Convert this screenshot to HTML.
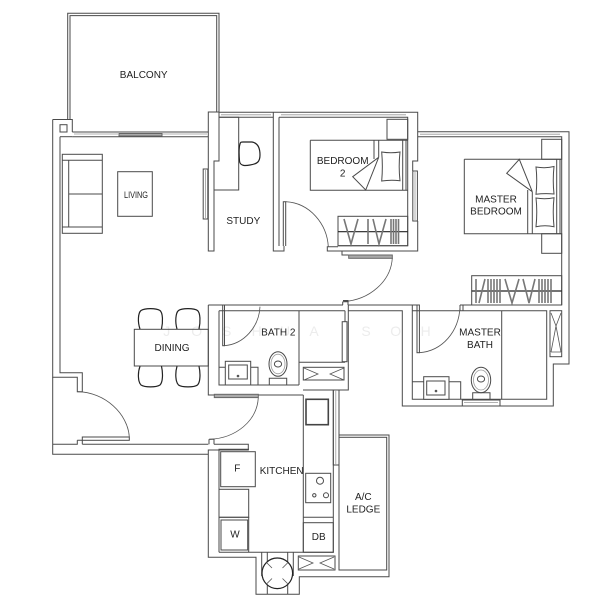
<!DOCTYPE html>
<html><head><meta charset="utf-8"><style>
html,body{margin:0;padding:0;background:#fff;width:616px;height:600px;overflow:hidden}
svg{display:block}
text{font-family:"Liberation Sans",sans-serif;font-size:10px;fill:#222;text-anchor:middle}
.w{font-size:14px;fill:#ececec}
path,rect,circle,ellipse,line{fill:none;stroke:#4a4a4a;stroke-width:1}
.d{stroke:#222;stroke-width:1.2}
.t{stroke:#777;stroke-width:1.6}
.a{stroke:#555;stroke-width:.8}
.f{fill:#aaa;stroke:#666}
.l{stroke:#999;stroke-width:.8}
</style></head><body>
<svg width="616" height="600" viewBox="0 0 616 600" xmlns="http://www.w3.org/2000/svg">
<!-- watermark -->
<text class="w" x="166.7" y="336">J</text><text class="w" x="196.7" y="336">O</text><text class="w" x="226.7" y="336">S</text><text class="w" x="256.7" y="336">H</text><text class="w" x="285" y="336">U</text><text class="w" x="314" y="336">A</text><text class="w" x="366" y="336">S</text><text class="w" x="395.7" y="336">O</text><text class="w" x="425.7" y="336">H</text>

<!-- balcony -->
<path d="M67.7 119V13.3H219V112M70 119V15.6H216.7V112"/>
<!-- living outer -->
<path d="M52.7 119.5H72.3V132M60 136.7V372.7H82.3V391.7H77.3V377.3H52.7V119.5"/>
<path d="M60 136.7H72.3"/>
<rect x="60" y="124.7" width="7" height="7.3"/>
<!-- living window -->
<path d="M72.3 132H208M72.3 136.7H208"/>
<path class="l" d="M74 134H118M162 134H207"/>
<rect class="f" x="119" y="133.5" width="43" height="2.5" />
<path d="M52.7 377.3V454.3H208.3M52.7 444.3H77.3V440.3M82.3 444.3V440.3M82.3 444.3H208.3M77.3 440.3H82.3"/>
<!-- main door -->
<rect x="82.3" y="437" width="47" height="3.3"/>
<path class="a" d="M77.3 391.7C105 392 128 414 129.3 437"/>
<!-- study walls -->
<path d="M219 112H208.3V251H214V161H219V112"/>
<rect x="203.2" y="169" width="4.6" height="50"/><path class="l" d="M205.5 170V218"/>
<path d="M219 112.3H279M219 117.3H273"/>
<path class="l" d="M221 114.8H271"/>
<path d="M219 117.3H238.7V190H214"/>
<path class="d" d="M243 142H252C258 143 260 148 260 155C260 162 257 164 250 165C245 166 240 166 239.5 161C239 155 239 147 240 144C240.5 142 241 142 243 142Z"/>
<!-- sofa -->
<rect x="62.3" y="154.3" width="40" height="79"/>
<path d="M62.3 160.3H102.3M62.3 227H102.3M68.7 160.3V227M68.7 194H102.3"/>
<rect x="117.7" y="171.7" width="34.6" height="44.6"/>
<!-- wall study/bedroom -->
<path d="M273.3 112.3V251H284V246M279 117.3V246"/>
<!-- bedroom 2 top -->
<path d="M279 112.3H417.7V161H412.7V171M279 117.3H407.7V245.7H338"/>
<path class="l" d="M281 114.8H406"/>
<rect x="412.8" y="171" width="4.6" height="50"/><path class="l" d="M415 172V220"/>
<path d="M417.7 221V251H327.3V246.7H338"/>
<!-- bedroom door -->
<path d="M283.3 246V201.7H285.7V246"/>
<path class="a" d="M285.7 201.7C310 203 327 224 328.3 246.7"/>
<!-- furniture bed 2 -->
<rect x="387" y="119.3" width="20.7" height="20"/>
<path d="M310.3 140.3H407.7M310.3 140.3V190.3H407.7M374 140.3V159M378.7 140.3V157.3M402.7 140.3V190.3M406 140.3V190.3"/>
<path d="M378.7 157.3L352.7 176.7L365.7 190L378.7 157.3"/>
<path d="M381.7 152C388 153 394 153 400 152C399 161 399 172 400 180.7C394 180 388 180 381.7 181C382.5 172 382.5 161 381.7 152Z"/>
<!-- wardrobe bed 2 -->
<rect x="338" y="216.3" width="69.7" height="29.4"/>
<path class="d" d="M338 231.7H407.7"/>
<path class="t" d="M344 219L351 244L358 219M368 219V244M373 219L379 244L386 219M391 219V244M393.5 219V244M396 219V244M398.5 219V244"/>
<!-- corridor door -->
<path d="M327.3 251H342V255H348.7"/>
<rect class="f" x="348.7" y="255" width="43.6" height="3.3"/>
<path class="a" d="M392.3 258C391 281 370 300 343 301.7"/>
<path d="M342.7 301.7H348V305M342.7 301.7V305"/>
<!-- master top -->
<path d="M417.7 131.7H569V364H553.3V406H402.3V310.7H348M417.7 136.7H561.7V305"/>
<path class="l" d="M420 134.2H560"/>
<rect x="541.7" y="139.3" width="20" height="20"/>
<rect x="541.7" y="233.7" width="20" height="19.6"/>
<path d="M464.3 159.3H561.7M464.3 159.3V233.7H561.7M527.7 190V233.7M532.3 191.7V233.7M556.7 159.3V233.7M560 159.3V233.7"/>
<path d="M532.3 191.7L519.3 159.3L506.7 173.3L532.3 191.7"/>
<path d="M536 167C542 168 548 168 554 166.5C553 176 553 185 554 194C548 193.5 542 193.5 536 194.3C537 185 537 176 536 167Z"/>
<path d="M536 198C542 199 548 199 554 197.7C553 207 553 217 554 226.7C548 225.5 542 225.5 536 226.7C537 217 537 207 536 198Z"/>
<rect x="471.7" y="275.7" width="90" height="29.3"/>
<path class="d" d="M471.7 291H561.7"/>
<path class="t" d="M476 279V303M479 303L485 279M488 279V303M491 279V303M494 279V303M497 279V303M500 279V303M505 279L512 303L519 279M523 279L529 303L535 279M539 279V303M542 279V303M545 279V303M548 279V303M551 279V303"/>
<!-- master bath -->
<path d="M348 305H417M460 305H561.7M412.3 305V399.3H546.7V310.7H460M412.3 310.7H460M501.7 310.7V399.3"/>
<path d="M460 305V310.7M463 305V310.7"/>
<rect x="550" y="310.7" width="11.7" height="46"/>
<path class="a" d="M551 313L556 326L551 352M561 313L556 326L561 352M551 352H561"/>
<rect x="417" y="305" width="2.4" height="47.7"/>
<path class="a" d="M419.4 352.7C442 351 459 332 460 306.7"/>
<path d="M412.3 381.7H460.7V399.3"/>
<rect x="423.7" y="376.7" width="25.3" height="22.6" style="fill:#fff"/>
<rect x="426.7" y="381" width="18.3" height="14"/>
<circle cx="436" cy="391" r=".8"/>
<ellipse cx="481" cy="380" rx="9.7" ry="12.7"/>
<ellipse cx="481" cy="380" rx="7.5" ry="10" class="l"/>
<ellipse cx="481" cy="379" rx="3.6" ry="3"/>
<path d="M472.7 399.3V392.7H490V399.3"/>
<rect x="462.3" y="400" width="37.7" height="6"/><path class="l" d="M464 402.5H498"/>
<!-- bath 2 -->
<path d="M208.3 305V395H214.3M208.3 305H343M219 310.7H345M219 310.7V385H299M299 310.7V385M299 362.3H345M303 390H348.3V305M345 310.7V362.3"/>
<path d="M214.3 395H303.3"/>
<rect x="342.2" y="321.7" width="4.8" height="40" style="fill:#fff"/>
<path d="M343 300.5H348V305"/>
<rect x="303.3" y="367.3" width="40.7" height="12.7"/>
<path class="a" d="M304 368L318 374L304 380M344 368L330 374L344 380"/>
<rect x="222.7" y="305" width="1.8" height="40.7"/>
<path class="a" d="M224.5 345.7C244 344 259 327 260 306.7"/>
<path d="M219 367.3H258V385"/>
<rect x="225.3" y="361.3" width="25.4" height="23.7" style="fill:#fff"/>
<rect x="228.7" y="365" width="18.6" height="14"/>
<circle cx="238" cy="376" r=".8"/>
<ellipse cx="278" cy="364" rx="9" ry="12.3"/>
<ellipse cx="278" cy="364" rx="7" ry="9.8" class="l"/>
<ellipse cx="278" cy="364" rx="3.6" ry="3"/>
<path d="M269.3 385V378.3H286.7V385"/>
<!-- dining -->
<rect x="134.3" y="329.3" width="74" height="36.7"/>
<path class="d" d="M140 329C137.5 322 138 313 141 310.5C145 308 156 308 160 310.5C163 313 163 322 161.5 329"/>
<path class="d" d="M177 329C175 322 175.5 313 178.5 310.5C182 308 194 308 197.5 310.5C200.5 313 200.5 322 199 329"/>
<path class="d" d="M140 366.3C137.5 373 138 382 141 385C145 387.5 156 387.5 160 385C163 382 163 373 161.5 366.3"/>
<path class="d" d="M177 366.3C175 373 175.5 382 178.5 385C182 387.5 194 387.5 197.5 385C200.5 382 200.5 373 199 366.3"/>
<!-- kitchen door -->
<rect class="f" x="214.3" y="394.3" width="44" height="3.3"/>
<path class="a" d="M258.3 397.7C257 421 236 438 210 439.3"/>
<path d="M209 439.3H214V444.3M209 439.3V444.3"/>
<!-- kitchen -->
<path d="M214 444.3H248.3V450H208.3V557.3H256V594.3H299.3V576.7H389V435H339V465M219 552.3V449.3H249"/>
<path d="M219 552.3H333.3V390M303.3 395V552.3M303.3 517.3H333.3"/>
<rect x="333.3" y="390" width="5.7" height="75"/><path class="l" d="M335.8 390V465"/>
<path d="M339 390V437"/>
<rect style="stroke:#444;stroke-width:1.6" x="306" y="399.3" width="22.3" height="25.4"/>
<rect x="305.7" y="473.3" width="25" height="29.4"/>
<circle cx="320" cy="480.7" r="3.5"/><circle cx="314.3" cy="495.3" r="1.7"/><circle cx="326" cy="495.3" r="2.5"/>
<rect x="303.3" y="522.7" width="30" height="29.6"/>
<rect x="220.7" y="451.7" width="34.6" height="35"/>
<rect x="219" y="489.3" width="29.7" height="28"/>
<path d="M219 517.3H248.7V552.3"/>
<rect x="221" y="520" width="26.7" height="30"/>
<!-- ac ledge -->
<rect x="339" y="437.3" width="47.7" height="132.7"/>
<!-- fan & services -->
<path d="M261.7 552.3V576M267.3 552.3V594.3M287.7 552.3V594.3M293.3 552.3V576"/>
<circle class="d" cx="277.3" cy="573.3" r="15.3" style="fill:#fff"/>
<path class="a" d="M266.5 562.5L272 568M288 562.5L282.5 568M266.5 584L272 578.5M288 584L282.5 578.5"/>
<rect x="298.3" y="556" width="36.7" height="14"/>
<path class="a" d="M299 557L313 563L299 569M334 557L320 563L334 569"/>
<!-- labels -->
<text x="143.7" y="78">BALCONY</text>
<text x="136" y="198" style="font-size:9.5px" textLength="24" lengthAdjust="spacingAndGlyphs">LIVING</text>
<text x="243.3" y="224">STUDY</text>
<text x="342.7" y="164">BEDROOM</text><text x="342.7" y="176.3">2</text>
<text x="496" y="202.3">MASTER</text><text x="496" y="214.7">BEDROOM</text>
<text x="172" y="351">DINING</text>
<text x="278.3" y="335.3">BATH 2</text>
<text x="480" y="335.3">MASTER</text><text x="480" y="348">BATH</text>
<text x="237.3" y="471.7">F</text>
<text x="281.7" y="474">KITCHEN</text>
<text x="235" y="537.3">W</text>
<text x="318.7" y="540">DB</text>
<text x="363.3" y="500">A/C</text><text x="363.3" y="512.3">LEDGE</text>
</svg>
</body></html>
